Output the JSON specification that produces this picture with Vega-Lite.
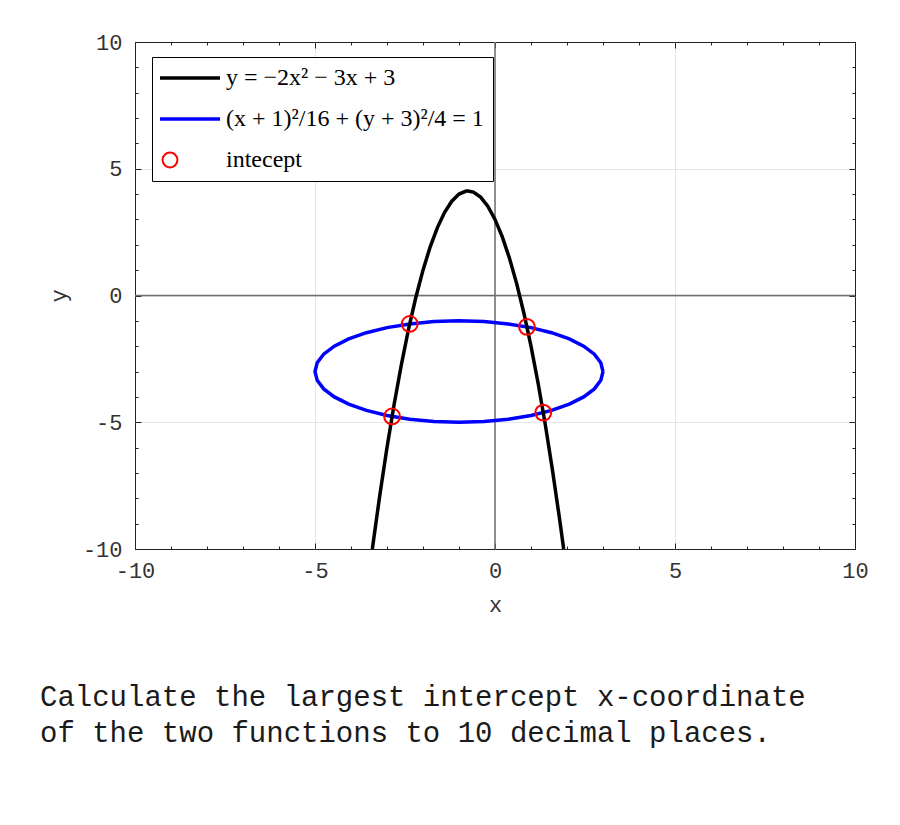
{
  "$schema": "https://vega.github.io/schema/vega-lite/v6.json",
  "width": 720,
  "height": 507,
  "autosize": {"type": "none"},
  "padding": {"left": 135, "top": 42, "right": 45, "bottom": 276},
  "background": "white",
  "title": {
    "text": ["Calculate the largest intercept x-coordinate", "of the two functions to 10 decimal places."],
    "orient": "bottom",
    "anchor": "start",
    "frame": "group",
    "dx": -95,
    "offset": 68,
    "font": "Liberation Mono",
    "fontSize": 29,
    "fontWeight": "normal",
    "lineHeight": 36,
    "color": "#1a1a1a"
  },
  "config": {
    "view": {"stroke": "#222222", "strokeWidth": 1},
    "axis": {
      "labelFont": "Liberation Mono",
      "labelFontSize": 22,
      "labelColor": "#333333",
      "titleFont": "Liberation Mono",
      "titleFontSize": 22,
      "titleFontWeight": "normal",
      "titleColor": "#333333",
      "domain": false,
      "tickColor": "#222222",
      "tickWidth": 1
    }
  },
  "datasets": {
    "parabola": [
      {"x": -3.4075, "y": -10.0, "i": 0},
      {"x": -3.2, "y": -7.88, "i": 1},
      {"x": -3.0, "y": -6.0, "i": 2},
      {"x": -2.8, "y": -4.28, "i": 3},
      {"x": -2.6, "y": -2.72, "i": 4},
      {"x": -2.4, "y": -1.32, "i": 5},
      {"x": -2.2, "y": -0.08, "i": 6},
      {"x": -2.0, "y": 1.0, "i": 7},
      {"x": -1.8, "y": 1.92, "i": 8},
      {"x": -1.6, "y": 2.68, "i": 9},
      {"x": -1.4, "y": 3.28, "i": 10},
      {"x": -1.2, "y": 3.72, "i": 11},
      {"x": -1.0, "y": 4.0, "i": 12},
      {"x": -0.8, "y": 4.12, "i": 13},
      {"x": -0.75, "y": 4.125, "i": 14},
      {"x": -0.6, "y": 4.08, "i": 15},
      {"x": -0.4, "y": 3.88, "i": 16},
      {"x": -0.2, "y": 3.52, "i": 17},
      {"x": 0.0, "y": 3.0, "i": 18},
      {"x": 0.2, "y": 2.32, "i": 19},
      {"x": 0.4, "y": 1.48, "i": 20},
      {"x": 0.6, "y": 0.48, "i": 21},
      {"x": 0.8, "y": -0.68, "i": 22},
      {"x": 1.0, "y": -2.0, "i": 23},
      {"x": 1.2, "y": -3.48, "i": 24},
      {"x": 1.4, "y": -5.12, "i": 25},
      {"x": 1.6, "y": -6.92, "i": 26},
      {"x": 1.8, "y": -8.88, "i": 27},
      {"x": 1.9075, "y": -10.0, "i": 28}
    ],
    "ellipse": [
      {"x": 3.0, "y": -3.0, "i": 0},
      {"x": 2.939, "y": -2.653, "i": 1},
      {"x": 2.759, "y": -2.316, "i": 2},
      {"x": 2.464, "y": -2.0, "i": 3},
      {"x": 2.064, "y": -1.714, "i": 4},
      {"x": 1.571, "y": -1.468, "i": 5},
      {"x": 1.0, "y": -1.268, "i": 6},
      {"x": 0.368, "y": -1.121, "i": 7},
      {"x": -0.305, "y": -1.03, "i": 8},
      {"x": -1.0, "y": -1.0, "i": 9},
      {"x": -1.695, "y": -1.03, "i": 10},
      {"x": -2.368, "y": -1.121, "i": 11},
      {"x": -3.0, "y": -1.268, "i": 12},
      {"x": -3.571, "y": -1.468, "i": 13},
      {"x": -4.064, "y": -1.714, "i": 14},
      {"x": -4.464, "y": -2.0, "i": 15},
      {"x": -4.759, "y": -2.316, "i": 16},
      {"x": -4.939, "y": -2.653, "i": 17},
      {"x": -5.0, "y": -3.0, "i": 18},
      {"x": -4.939, "y": -3.347, "i": 19},
      {"x": -4.759, "y": -3.684, "i": 20},
      {"x": -4.464, "y": -4.0, "i": 21},
      {"x": -4.064, "y": -4.286, "i": 22},
      {"x": -3.571, "y": -4.532, "i": 23},
      {"x": -3.0, "y": -4.732, "i": 24},
      {"x": -2.368, "y": -4.879, "i": 25},
      {"x": -1.695, "y": -4.97, "i": 26},
      {"x": -1.0, "y": -5.0, "i": 27},
      {"x": -0.305, "y": -4.97, "i": 28},
      {"x": 0.368, "y": -4.879, "i": 29},
      {"x": 1.0, "y": -4.732, "i": 30},
      {"x": 1.571, "y": -4.532, "i": 31},
      {"x": 2.064, "y": -4.286, "i": 32},
      {"x": 2.464, "y": -4.0, "i": 33},
      {"x": 2.759, "y": -3.684, "i": 34},
      {"x": 2.939, "y": -3.347, "i": 35},
      {"x": 3.0, "y": -3.0, "i": 36}
    ],
    "points": [
      {"x": -2.3695, "y": -1.122},
      {"x": 0.8873, "y": -1.236},
      {"x": -2.859, "y": -4.771},
      {"x": 1.341, "y": -4.62}
    ],
    "zerox": [{"v": 0}],
    "zeroy": [{"v": 0}]
  },
  "resolve": {"scale": {"x": "shared", "y": "shared", "color": "shared"}},
  "layer": [
    {
      "data": {"name": "zerox"},
      "mark": {"type": "rule", "color": "#6e6e6e", "strokeWidth": 1.5},
      "encoding": {
        "x": {
          "field": "v", "type": "quantitative",
          "scale": {"domain": [-10, 10], "nice": false, "zero": false},
          "axis": {
            "orient": "bottom",
            "title": "x",
            "titlePadding": 10,
            "values": [-10, -9, -8, -7, -6, -5, -4, -3, -2, -1, 0, 1, 2, 3, 4, 5, 6, 7, 8, 9, 10],
            "labelExpr": "datum.value % 5 === 0 ? '' + datum.value : ''",
            "labelPadding": 17,
            "labelFlush": false,
            "labelOverlap": false,
            "tickSize": {"condition": {"test": "datum.value % 5 === 0", "value": -6}, "value": -3},
            "grid": true,
            "gridColor": "#e6e6e6",
            "gridWidth": 1,
            "gridOpacity": {"condition": {"test": "datum.value % 5 === 0 && abs(datum.value) < 10", "value": 1}, "value": 0}
          }
        }
      }
    },
    {
      "data": {"name": "zeroy"},
      "mark": {"type": "rule", "color": "#6e6e6e", "strokeWidth": 1.5},
      "encoding": {
        "y": {
          "field": "v", "type": "quantitative",
          "scale": {"domain": [-10, 10], "nice": false, "zero": false},
          "axis": {
            "orient": "left",
            "title": "y",
            "titlePadding": 12,
            "values": [-10, -9, -8, -7, -6, -5, -4, -3, -2, -1, 0, 1, 2, 3, 4, 5, 6, 7, 8, 9, 10],
            "labelExpr": "datum.value % 5 === 0 ? '' + datum.value : ''",
            "labelPadding": 19,
            "labelFlush": false,
            "labelOverlap": false,
            "tickSize": {"condition": {"test": "datum.value % 5 === 0", "value": -6}, "value": -3},
            "grid": true,
            "gridColor": "#e6e6e6",
            "gridWidth": 1,
            "gridOpacity": {"condition": {"test": "datum.value % 5 === 0 && abs(datum.value) < 10", "value": 1}, "value": 0}
          }
        }
      }
    },
    {
      "data": {"name": "ellipse"},
      "mark": {"type": "line", "strokeWidth": 3.5, "clip": true},
      "encoding": {
        "x": {"field": "x", "type": "quantitative", "axis": {
          "orient": "top", "title": null, "labels": false, "grid": false,
          "values": [-10, -9, -8, -7, -6, -5, -4, -3, -2, -1, 0, 1, 2, 3, 4, 5, 6, 7, 8, 9, 10],
          "tickSize": {"condition": {"test": "datum.value % 5 === 0", "value": -6}, "value": -3}
        }},
        "y": {"field": "y", "type": "quantitative", "axis": {
          "orient": "right", "title": null, "labels": false, "grid": false,
          "values": [-10, -9, -8, -7, -6, -5, -4, -3, -2, -1, 0, 1, 2, 3, 4, 5, 6, 7, 8, 9, 10],
          "tickSize": {"condition": {"test": "datum.value % 5 === 0", "value": -6}, "value": -3}
        }},
        "order": {"field": "i", "type": "quantitative"},
        "color": {
          "datum": "(x + 1)²/16 + (y + 3)²/4 = 1",
          "type": "nominal",
          "scale": {
            "domain": ["y = −2x² − 3x + 3", "(x + 1)²/16 + (y + 3)²/4 = 1", "intecept"],
            "range": ["#000000", "#0000ff", "#ff0000"]
          },
          "legend": {
            "title": null,
            "orient": "none",
            "legendX": 17,
            "legendY": 15,
            "direction": "vertical",
            "strokeColor": "#000000",
            "fillColor": "#ffffff",
            "padding": 9,
            "labelFont": "Liberation Serif",
            "labelFontSize": 24,
            "labelColor": "#000000",
            "labelLimit": 400,
            "labelOffset": 41,
            "rowPadding": 17,
            "symbolType": "stroke",
            "symbolSize": 3600,
            "symbolStrokeWidth": 3.5,
            "encode": {
              "symbols": {
                "update": {
                  "shape": {"signal": "datum.value === 'intecept' ? 'circle' : 'stroke'"},
                  "size": {"signal": "datum.value === 'intecept' ? 220 : 3600"},
                  "strokeWidth": {"signal": "datum.value === 'intecept' ? 2 : 3.5"},
                  "x": {"signal": "datum.value === 'intecept' ? 9 : 29"},
                  "fill": {"value": "transparent"},
                  "stroke": {"signal": "scale('color', datum.value)"}
                }
              }
            }
          }
        }
      }
    },
    {
      "data": {"name": "parabola"},
      "mark": {"type": "line", "strokeWidth": 3.5, "clip": true},
      "encoding": {
        "x": {"field": "x", "type": "quantitative", "axis": null},
        "y": {"field": "y", "type": "quantitative", "axis": null},
        "order": {"field": "i", "type": "quantitative"},
        "color": {"datum": "y = −2x² − 3x + 3", "type": "nominal"}
      }
    },
    {
      "data": {"name": "points"},
      "mark": {"type": "point", "shape": "circle", "filled": false, "size": 250, "strokeWidth": 2, "opacity": 1},
      "encoding": {
        "x": {"field": "x", "type": "quantitative", "axis": null},
        "y": {"field": "y", "type": "quantitative", "axis": null},
        "color": {"datum": "intecept", "type": "nominal"}
      }
    }
  ]
}
